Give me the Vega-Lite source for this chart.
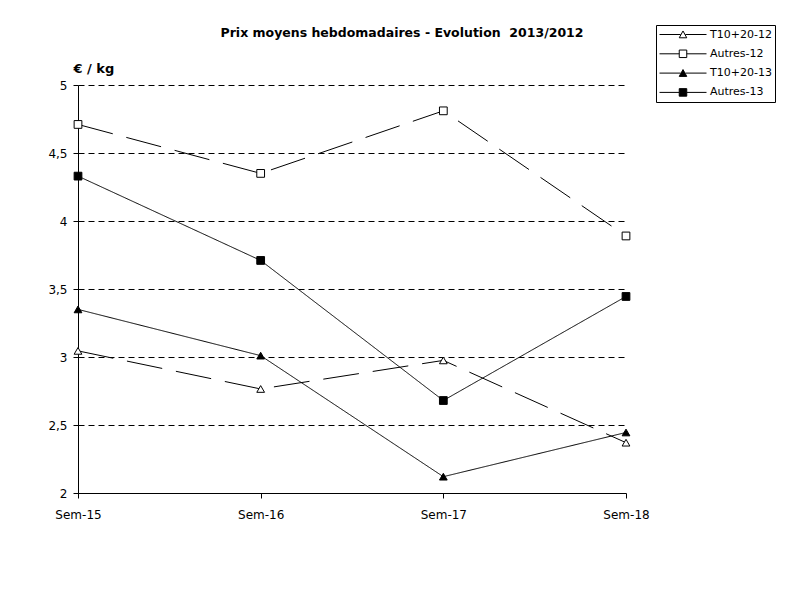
{
  "$schema": "https://vega.github.io/schema/vega-lite/v6.json",
  "autosize": "none",
  "width": 548,
  "height": 408,
  "padding": {"left": 78, "top": 85, "right": 168, "bottom": 96},
  "background": "white",
  "config": {"font": "DejaVu Sans", "view": {"stroke": null}},
  "title": {"text": "Prix moyens hebdomadaires - Evolution\u00a0 2013/2012", "fontSize": 12.5, "fontWeight": "bold", "color": "black", "anchor": "middle", "dx": 50, "offset": 0, "dy": 15},
  "data": {"values": [
    {"week": "Sem-15", "series": "T10+20-12", "value": 3.045},
    {"week": "Sem-16", "series": "T10+20-12", "value": 2.765},
    {"week": "Sem-17", "series": "T10+20-12", "value": 2.975},
    {"week": "Sem-18", "series": "T10+20-12", "value": 2.37},
    {"week": "Sem-15", "series": "Autres-12", "value": 4.71},
    {"week": "Sem-16", "series": "Autres-12", "value": 4.35},
    {"week": "Sem-17", "series": "Autres-12", "value": 4.81},
    {"week": "Sem-18", "series": "Autres-12", "value": 3.89},
    {"week": "Sem-15", "series": "T10+20-13", "value": 3.35},
    {"week": "Sem-16", "series": "T10+20-13", "value": 3.01},
    {"week": "Sem-17", "series": "T10+20-13", "value": 2.12},
    {"week": "Sem-18", "series": "T10+20-13", "value": 2.445},
    {"week": "Sem-15", "series": "Autres-13", "value": 4.33},
    {"week": "Sem-16", "series": "Autres-13", "value": 3.71},
    {"week": "Sem-17", "series": "Autres-13", "value": 2.68},
    {"week": "Sem-18", "series": "Autres-13", "value": 3.445}
  ]},
  "encoding": {
    "x": {"field": "week", "type": "ordinal", "sort": ["Sem-15", "Sem-16", "Sem-17", "Sem-18"],
      "scale": {"type": "point", "padding": 0},
      "axis": {"title": null, "labelAngle": 0, "labelFontSize": 12, "labelColor": "black", "labelPadding": 11, "tickSize": 5, "tickColor": "black", "domainColor": "black", "grid": false}},
    "y": {"field": "value", "type": "quantitative",
      "scale": {"domain": [2, 5], "nice": false, "zero": false},
      "axis": {"title": "€ / kg", "titleAngle": 0, "titleAlign": "left", "titleBaseline": "alphabetic", "titleX": -5, "titleY": -13, "titleFontSize": 13, "titleFontWeight": "bold", "titleColor": "black",
        "values": [2, 2.5, 3, 3.5, 4, 4.5, 5],
        "labelExpr": "replace(format(datum.value, '~g'), '.', ',')",
        "labelFontSize": 12, "labelColor": "black", "labelPadding": 6, "tickSize": 5, "tickColor": "black", "domainColor": "black",
        "grid": true, "gridDash": [6, 4], "gridColor": "black", "gridWidth": 1}}
  },
  "layer": [
    {
      "mark": {"type": "line", "color": "black", "strokeWidth": 1},
      "encoding": {
        "detail": {"field": "series", "type": "nominal"},
        "strokeDash": {"field": "series", "type": "nominal",
          "scale": {"domain": ["T10+20-12", "Autres-12", "T10+20-13", "Autres-13"], "range": [[36, 14], [36, 14], [1, 0], [1, 0]]},
          "legend": null}
      }
    },
    {
      "mark": {"type": "point", "filled": true, "stroke": "black", "strokeWidth": 1, "opacity": 1, "size": 60},
      "encoding": {
        "shape": {"field": "series", "type": "nominal",
          "scale": {"domain": ["T10+20-12", "Autres-12", "T10+20-13", "Autres-13"], "range": ["triangle-up", "square", "triangle-up", "square"]},
          "legend": null},
        "fill": {"field": "series", "type": "nominal",
          "scale": {"domain": ["T10+20-12", "Autres-12", "T10+20-13", "Autres-13"], "range": ["white", "white", "black", "black"]},
          "legend": null}
      }
    },
    {
      "transform": [{"filter": "datum.series == 'none'"}],
      "mark": {"type": "point", "filled": false, "color": "black", "stroke": "black", "strokeWidth": 1, "opacity": 1},
      "encoding": {
        "shape": {"field": "series", "type": "nominal",
          "scale": {"domain": ["T10+20-12", "Autres-12", "T10+20-13", "Autres-13"],
            "range": [
              "M-1,0H-0.1M0.1,0H1M-0.16,0.14L0,-0.15L0.16,0.14Z",
              "M-1,0H-0.16M0.16,0H1M-0.16,-0.16H0.16V0.16H-0.16Z",
              "M-1,0H-0.1M0.1,0H1M-0.16,0.14L0,-0.15L0.16,0.14Z",
              "M-1,0H-0.16M0.16,0H1M-0.16,-0.16H0.16V0.16H-0.16Z"]},
          "legend": {"title": null, "orient": "none", "legendX": 578, "legendY": -60, "symbolSize": 2209, "clipHeight": 13, "rowPadding": 6.3, "padding": 3, "strokeColor": "black", "fillColor": "white", "labelFontSize": 11, "labelOffset": 3, "labelColor": "black", "symbolStrokeWidth": 1, "symbolStrokeColor": "black", "symbolOpacity": 1,
            "encoding": {"symbols": {"stroke": {"value": "black"}, "strokeWidth": {"value": 1}, "opacity": {"value": 1}}}}},
        "fill": {"field": "series", "type": "nominal",
          "scale": {"domain": ["T10+20-12", "Autres-12", "T10+20-13", "Autres-13"], "range": ["white", "white", "black", "black"]},
          "legend": {"title": null, "orient": "none", "legendX": 578, "legendY": -60, "symbolSize": 2209, "clipHeight": 13, "rowPadding": 6.3, "padding": 3, "strokeColor": "black", "fillColor": "white", "labelFontSize": 11, "labelOffset": 3, "labelColor": "black", "symbolStrokeWidth": 1, "symbolStrokeColor": "black", "symbolOpacity": 1,
            "encoding": {"symbols": {"stroke": {"value": "black"}, "strokeWidth": {"value": 1}, "opacity": {"value": 1}}}}}
      }
    }
  ],
  "resolve": {"scale": {"shape": "independent", "fill": "independent"}}
}
